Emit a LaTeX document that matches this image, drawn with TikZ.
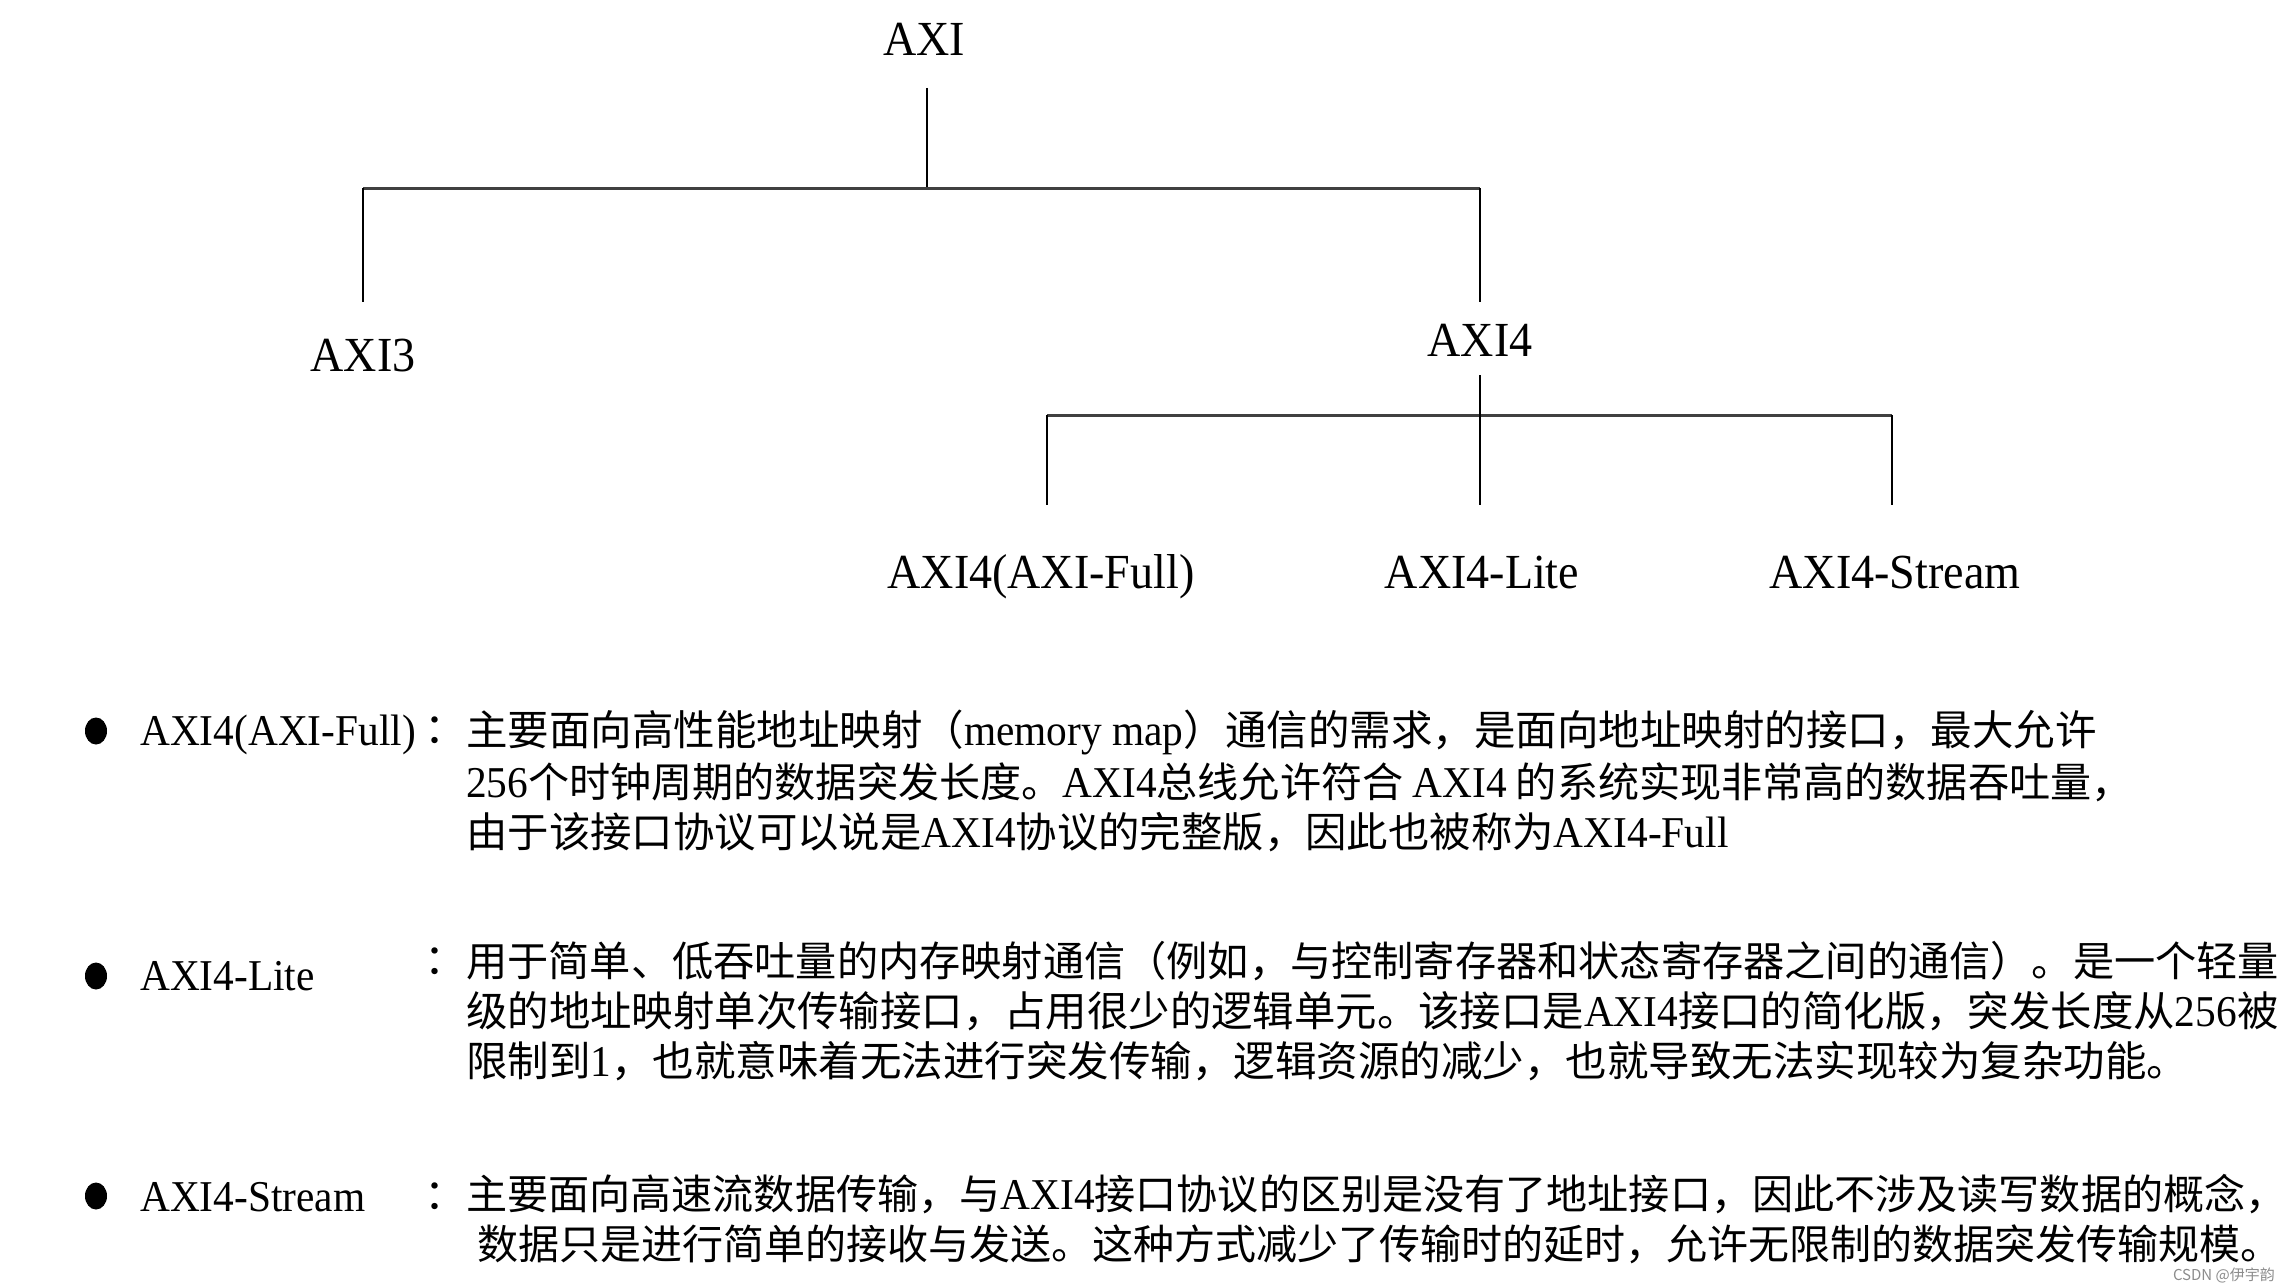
\documentclass[tikz,border=0pt]{standalone}
\usepackage{fontspec}
\usetikzlibrary{shapes.geometric}
\setmainfont{Liberation Serif}[FakeStretch=0.94]
\newfontfamily\cjk{Noto Sans CJK SC}
\newcommand\lat[1]{{\fontsize{44}{50}\selectfont\rmfamily #1}}
\begin{document}
\begin{tikzpicture}[x=1pt,y=-1pt,
  treelabel/.style={inner sep=0pt,anchor=base,font=\fontsize{49}{55}\selectfont},
  stem/.style={line width=2pt,black},
  hbar/.style={line width=3pt,black!75},
  txt/.style={inner sep=0pt,anchor=base west,font=\fontsize{#1}{50}\selectfont\cjk},
  lbl/.style={inner sep=0pt,anchor=base west,font=\fontsize{44}{50}\selectfont},
  colon/.style={inner sep=0pt,anchor=base west,font=\fontsize{42}{50}\selectfont\cjk},
  dot/.style={fill=black,draw=none,ellipse,minimum width=22pt,minimum height=27pt,inner sep=0pt}
]
\useasboundingbox[fill=white] (0,0) rectangle (2289,1287);

% tree labels
\node[treelabel] (axi) at (924,56) {AXI};
\node[treelabel] (axi3) at (363,371) {AXI3};
\node[treelabel] (axi4) at (1480,356) {AXI4};
\node[treelabel] (full) at (1041,588) {AXI4(AXI-Full)};
\node[treelabel] (lite) at (1482,588) {AXI4-Lite};
\node[treelabel] (stream) at (1895,588) {AXI4-Stream};

% junction coordinates
\coordinate (axis) at (927,88);
\coordinate (bar1) at (927,188);
\coordinate (bar1l) at (363,188);
\coordinate (bar1r) at (1480,188);
\coordinate (axi3n) at (363,302);
\coordinate (axi4n) at (1480,302);
\coordinate (axi4s) at (1480,375);
\coordinate (bar2l) at (1047,415);
\coordinate (bar2r) at (1892,415);
\coordinate (fulln) at (1047,505);
\coordinate (liten) at (1480,505);
\coordinate (streamn) at (1892,505);

\draw[stem] (axis) -- (bar1);
\draw[hbar] (bar1l) -- (bar1r);
\draw[stem] (bar1l) -- (axi3n);
\draw[stem] (bar1r) -- (axi4n);
\draw[hbar] (bar2l) -- (bar2r);
\draw[stem] (axi4s) -- (liten);
\draw[stem] (bar2l) -- (fulln);
\draw[stem] (bar2r) -- (streamn);

% bullets
\node[dot] (b1) at (96,731) {};
\node[dot] (b2) at (96,976) {};
\node[dot] (b3) at (96,1196) {};

% labels
\node[lbl] (l1) at (140,745) {AXI4(AXI-Full)};
\node[lbl] (l2) at (140,990) {AXI4-Lite};
\node[lbl] (l3) at (140,1211) {AXI4-Stream};

% colons
\node[colon] (c1) at (424,743) {：};
\node[colon] (c2) at (424,974) {：};
\node[colon] (c3) at (424,1209) {：};

% block 1
\node[txt=41.5] (t11) at (466,745) {主要面向高性能地址映射（\lat{memory map}）通信的需求，是面向地址映射的接口，最大允许};
\node[txt=41.1] (t12) at (466,797) {\lat{256}个时钟周期的数据突发长度。\lat{AXI4}总线允许符合 \lat{AXI4} 的系统实现非常高的数据吞吐量，};
\node[txt=41.4] (t13) at (466,847) {由于该接口协议可以说是\lat{AXI4}协议的完整版，因此也被称为\lat{AXI4-Full}};

% block 2
\node[txt=41.2] (t21) at (466,976) {用于简单、低吞吐量的内存映射通信（例如，与控制寄存器和状态寄存器之间的通信）。是一个轻量};
\node[txt=41.4] (t22) at (466,1026) {级的地址映射单次传输接口，占用很少的逻辑单元。该接口是\lat{AXI4}接口的简化版，突发长度从\lat{256}被};
\node[txt=41.5] (t23) at (466,1076) {限制到\lat{1}，也就意味着无法进行突发传输，逻辑资源的减少，也就导致无法实现较为复杂功能。};

% block 3
\node[txt=41.1] (t31) at (466,1209) {主要面向高速流数据传输，与\lat{AXI4}接口协议的区别是没有了地址接口，因此不涉及读写数据的概念，};
\node[txt=41] (t32) at (477,1259) {数据只是进行简单的接收与发送。这种方式减少了传输时的延时，允许无限制的数据突发传输规模。};

% watermark
\node[inner sep=0pt,anchor=base east,font=\fontsize{15}{18}\selectfont\cjk,text=black!45] (wm) at (2275,1280) {CSDN @伊宇韵};
\end{tikzpicture}
\end{document}
